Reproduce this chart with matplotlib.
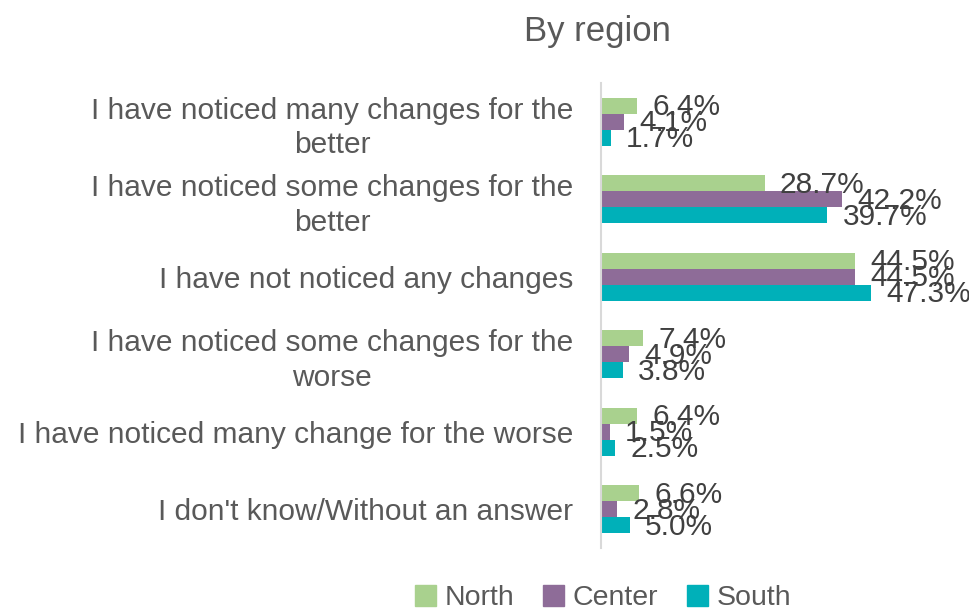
import matplotlib
matplotlib.use("Agg")
import matplotlib.pyplot as plt
import numpy as np

categories = [
    "I have noticed many changes for the\nbetter",
    "I have noticed some changes for the\nbetter",
    "I have not noticed any changes",
    "I have noticed some changes for the\nworse",
    "I have noticed many change for the worse",
    "I don't know/Without an answer",
]
series_names = ["North", "Center", "South"]
north = [6.4, 28.7, 44.5, 7.4, 6.4, 6.6]
center = [4.1, 42.2, 44.5, 4.9, 1.5, 2.8]
south = [1.7, 39.7, 47.3, 3.8, 2.5, 5.0]
colors = ["#a9d18e", "#8e6c98", "#00b0b9"]

plt.rcParams['font.family'] = ['Liberation Sans', 'DejaVu Sans']

fig = plt.figure(figsize=(9.7, 6.15), dpi=100)
ax = fig.add_axes([601/970, 1-548/615, 285/970, (548-83)/615])

y = np.arange(len(categories))
h = 0.207
for k, (vals, col, name) in enumerate(zip([north, center, south], colors, series_names)):
    pos = y + (k - 1) * h
    ax.barh(pos, vals, height=h, color=col, label=name)
    for p, v in zip(pos, vals):
        ax.text(v + 2.7, p + 0.02, f"{v:.1f}%", va='center', ha='left',
                fontsize=21.5, color='#404040')

ax.set_xlim(0, 50)
ax.set_ylim(len(categories) - 0.5, -0.5)
ax.set_yticks(y)
ax.set_yticklabels(categories, fontsize=21.5, color='#595959', multialignment='center',
                   linespacing=1.3)
ax.tick_params(axis='y', length=0, pad=20)
ax.set_xticks([])
for s in ['top', 'right', 'bottom']:
    ax.spines[s].set_visible(False)
ax.spines['left'].set_color('#d9d9d9')
ax.spines['left'].set_linewidth(1.5)

fig.text(597/970, 1-31/615, "By region", ha='center', va='center', fontsize=25, color='#595959')

handles = [plt.Rectangle((0, 0), 1, 1, color=c) for c in colors]
fig.legend(handles, series_names, loc='center', bbox_to_anchor=(603/970, 1-598/615),
           ncol=3, frameon=False, fontsize=20.5, handlelength=0.75, handleheight=0.75,
           handletextpad=0.3, columnspacing=1.0, labelcolor='#595959',
           borderpad=0.1)

fig.savefig("out.png", dpi=100)
